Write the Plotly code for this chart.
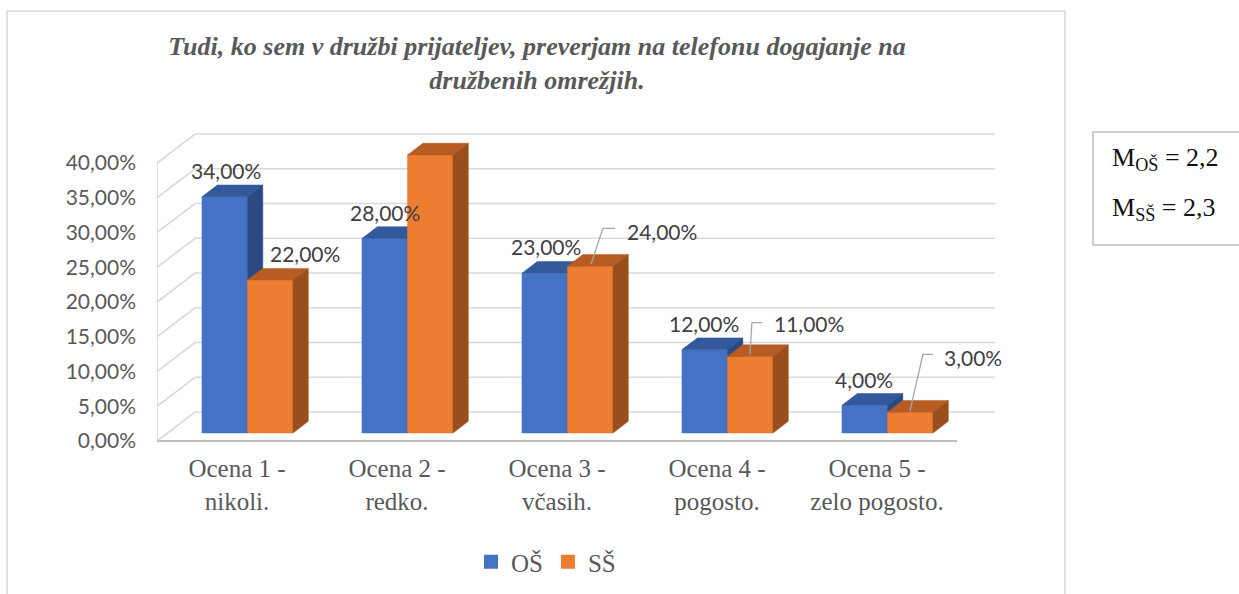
import plotly.graph_objects as go

# ---------------- data ----------------
categories = ["Ocena 1 -<br>nikoli.", "Ocena 2 -<br>redko.", "Ocena 3 -<br>včasih.",
              "Ocena 4 -<br>pogosto.", "Ocena 5 -<br>zelo pogosto."]
series_names = ["OŠ", "SŠ"]
os_values = [34, 28, 23, 12, 4]
ss_values = [22, 40, 24, 11, 3]
y_ticks = [0, 5, 10, 15, 20, 25, 30, 35, 40]
y_tick_labels = [f"{t:.2f}".replace(".", ",") + "%" for t in y_ticks]
chart_title = ("Tudi, ko sem v družbi prijateljev, preverjam na telefonu dogajanje na"
               "<br>družbenih omrežjih.")
mean_labels = ["OŠ", "SŠ"]
mean_values = [2.2, 2.3]

# ---------------- style / geometry ----------------
W, H = 1239, 594
ML, MR, MT, MB = 157, 244, 131, 151
PLOT_W = W - ML - MR
PLOT_H = H - MT - MB
PXX = 160.0          # px per category unit
PXY = 6.95           # px per percent
Y0_PX = 441          # pixel of 0 % on the front plane
X_RANGE = [-0.5, -0.5 + PLOT_W / PXX]
Y_RANGE = [-(H - MB - Y0_PX) / PXY, (Y0_PX - MT) / PXY]

WALL_DX = 38 / PXX   # depth of floor (x units)
WALL_DY = 29 / PXY   # depth of floor (percent units)
F0 = 8 / 29          # depth fraction of bar front faces
FD = 11.7 / 29       # bar depth fraction
BAR_W = 45.5 / PXX

front_cols = ["#4472C4", "#ED7D31"]
top_cols = ["#33599C", "#B75C22"]
side_cols = ["#2A4A83", "#9A4E1D"]
grid_col = "#D9D9D9"
txt_col = "#595959"
lbl_col = "#404040"
num_font = "Lato"
serif = "Liberation Serif"
NUM_SIZE = 21

# label offsets (px) relative to the centre of each bar's top face
label_pos = {
    (0, 0): dict(dx=-6.6, dy=-20), (0, 1): dict(dx=-7, dy=-20), (0, 2): dict(dx=-6.6, dy=-21),
    (0, 3): dict(dx=-8, dy=-20), (0, 4): dict(dx=-8.6, dy=-19.5),
    (1, 0): dict(dx=27.4, dy=-21), (1, 1): dict(dx=-7, dy=-19.5),
    (1, 2): dict(dx=27, dy=-29, leader=[(-7, 4), (5, -32), (17, -32)]),
    (1, 3): dict(dx=14, dy=-27, leader=[(-8, 4), (-6, -28), (4, -28)]),
    (1, 4): dict(dx=24, dy=-49, leader=[(-8, 5), (5, -52), (15, -52)]),
}


def proj(x, y, d):
    return x + d * WALL_DX, y + d * WALL_DY


def px_to_paper_x(px):
    return (px - ML) / PLOT_W


def px_to_paper_y(py):
    return (H - MB - py) / PLOT_H


fig = go.Figure()

# ---------- walls / gridlines ----------
gx, gy = [], []
for t in y_ticks:
    for (x, d) in [(-0.5, 0), (-0.5, 1), (4.5, 1)]:
        px_, py_ = proj(x, t, d)
        gx.append(px_)
        gy.append(py_)
    gx.append(None)
    gy.append(None)
# front-left vertical edge
gx += [-0.5, -0.5, None]
gy += [0, y_ticks[-1], None]
fig.add_trace(go.Scatter(x=gx, y=gy, mode="lines", line=dict(color=grid_col, width=1.6),
                         hoverinfo="skip", showlegend=False))
# floor front edge
fig.add_trace(go.Scatter(x=[-0.5, 4.5], y=[0, 0], mode="lines",
                         line=dict(color="#BFBFBF", width=2.2),
                         hoverinfo="skip", showlegend=False))

# ---------- 3D bars ----------
all_values = [os_values, ss_values]
annotations = []
leaders_x, leaders_y = [], []
for j, vals in enumerate(all_values):
    fx, fy, tx, ty, sx, sy = [], [], [], [], [], []
    for i, v in enumerate(vals):
        xl = i - BAR_W + j * BAR_W
        xr = xl + BAR_W
        pts = [proj(xl, 0, F0), proj(xr, 0, F0), proj(xr, v, F0), proj(xl, v, F0), proj(xl, 0, F0)]
        fx += [p[0] for p in pts] + [None]
        fy += [p[1] for p in pts] + [None]
        pts = [proj(xl, v, F0), proj(xr, v, F0), proj(xr, v, F0 + FD), proj(xl, v, F0 + FD), proj(xl, v, F0)]
        tx += [p[0] for p in pts] + [None]
        ty += [p[1] for p in pts] + [None]
        pts = [proj(xr, 0, F0), proj(xr, v, F0), proj(xr, v, F0 + FD), proj(xr, 0, F0 + FD), proj(xr, 0, F0)]
        sx += [p[0] for p in pts] + [None]
        sy += [p[1] for p in pts] + [None]

        cx, cy = proj((xl + xr) / 2, v, F0 + FD / 2)
        lp = label_pos[(j, i)]
        text = f"{v:.2f}".replace(".", ",") + "%"
        lead = lp.get("leader")
        if lead:
            for (ddx, ddy) in lead:
                leaders_x.append(cx + ddx / PXX)
                leaders_y.append(cy - ddy / PXY)
            leaders_x.append(None)
            leaders_y.append(None)
        annotations.append(dict(
            x=cx + lp["dx"] / PXX, y=cy - lp["dy"] / PXY, xref="x", yref="y",
            text=text, showarrow=False, xanchor="left" if lead else "center", yanchor="middle",
            font=dict(family=num_font, size=NUM_SIZE, color=lbl_col)))

    name = series_names[j]
    fig.add_trace(go.Scatter(x=fx, y=fy, mode="lines", fill="toself", fillcolor=front_cols[j],
                             line=dict(color=front_cols[j], width=0.5), name=name,
                             showlegend=False, hoverinfo="skip"))
    fig.add_trace(go.Scatter(x=tx, y=ty, mode="lines", fill="toself", fillcolor=top_cols[j],
                             line=dict(color=top_cols[j], width=0.5), showlegend=False,
                             hoverinfo="skip"))
    fig.add_trace(go.Scatter(x=sx, y=sy, mode="lines", fill="toself", fillcolor=side_cols[j],
                             line=dict(color=side_cols[j], width=0.5), showlegend=False,
                             hoverinfo="skip"))

# leader lines
fig.add_trace(go.Scatter(x=leaders_x, y=leaders_y, mode="lines",
                         line=dict(color="#A6A6A6", width=1.3), hoverinfo="skip",
                         showlegend=False))

# legend entries
for j, name in enumerate(series_names):
    fig.add_trace(go.Scatter(x=[None], y=[None], mode="markers", name=name,
                             marker=dict(symbol="square", size=14, color=front_cols[j])))

# ---------- mean box ----------
for k, (lab, val) in enumerate(zip(mean_labels, mean_values)):
    annotations.append(dict(
        x=px_to_paper_x(1110), y=px_to_paper_y(159 + k * 50), xref="paper", yref="paper",
        text=f"M<sub>{lab}</sub> = {str(val).replace('.', ',')}", showarrow=False,
        xanchor="left", yanchor="middle", font=dict(family=serif, size=26, color="#111111")))

shapes = [
    dict(type="rect", xref="paper", yref="paper",
         x0=px_to_paper_x(7), x1=px_to_paper_x(1065), y0=px_to_paper_y(600), y1=px_to_paper_y(11),
         line=dict(color="#D9D9D9", width=1.5), fillcolor="rgba(0,0,0,0)", layer="below"),
    dict(type="rect", xref="paper", yref="paper",
         x0=px_to_paper_x(1093), x1=px_to_paper_x(1250), y0=px_to_paper_y(245), y1=px_to_paper_y(132),
         line=dict(color="#BFBFBF", width=1.5), fillcolor="rgba(0,0,0,0)", layer="below"),
]

fig.update_layout(
    width=W, height=H,
    margin=dict(l=ML, r=MR, t=MT, b=MB, autoexpand=False),
    paper_bgcolor="white", plot_bgcolor="white",
    title=dict(text=chart_title, x=537 / W, xanchor="center", y=1 - 55 / H, yanchor="middle",
               xref="container", yref="container",
               font=dict(family=serif, size=26, color=txt_col, weight="bold", style="italic")),
    xaxis=dict(range=X_RANGE, tickvals=list(range(len(categories))), ticktext=categories,
               showgrid=False, zeroline=False, showline=False, ticks="",
               tickfont=dict(family=serif, size=25, color=txt_col), ticklabelstandoff=8,
               fixedrange=True),
    yaxis=dict(range=Y_RANGE, tickvals=y_ticks, ticktext=y_tick_labels,
               showgrid=False, zeroline=False, showline=False, ticks="",
               tickfont=dict(family=num_font, size=NUM_SIZE, color=txt_col), ticklabelstandoff=20,
               fixedrange=True),
    legend=dict(orientation="h", x=546 / W, xanchor="center", y=1 - 562 / H, yanchor="middle",
                xref="container", yref="container",
                font=dict(family=serif, size=25, color=txt_col), itemwidth=30),
    annotations=annotations,
    shapes=shapes,
)

fig.write_html("out.html", config={"displayModeBar": False},
               post_script="document.body.style.margin='0';")
